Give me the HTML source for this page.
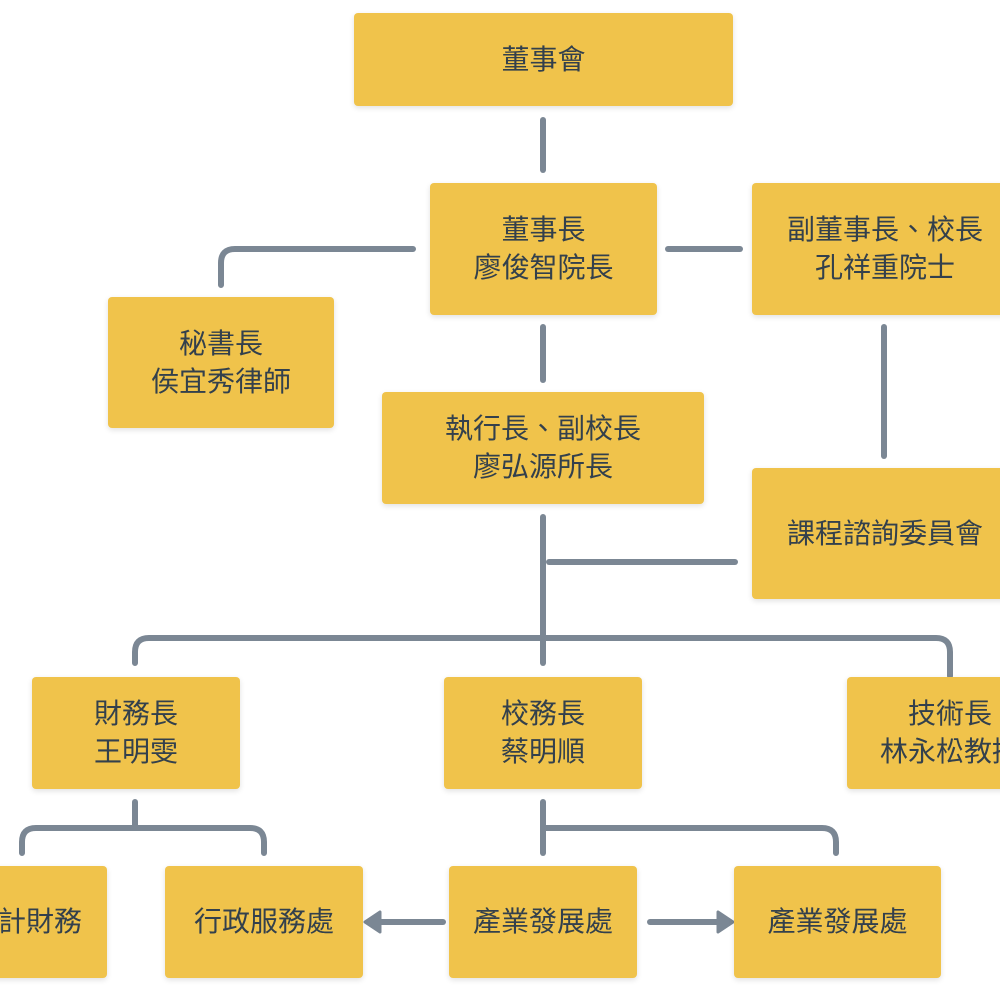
<!DOCTYPE html>
<html><head><meta charset="utf-8"><style>
html,body{margin:0;padding:0;background:#fff;}
body{width:1000px;height:1000px;position:relative;overflow:hidden;}
.b{position:absolute;background:#f0c34b;border-radius:4px;box-shadow:0 2px 6px rgba(0,0,0,0.12);display:flex;align-items:center;justify-content:center;text-align:center;color:#33404c;font-family:"Liberation Sans","Noto Sans CJK TC",sans-serif;font-size:28px;line-height:38px;white-space:nowrap;}
svg{position:absolute;left:0;top:0;}
</style></head><body>
<svg width="1000" height="1000" fill="none" stroke="#7b8794" stroke-width="6" stroke-linecap="round">
<path d="M543 120V170"/>
<path d="M413 249H235Q221 249 221 263V285"/>
<path d="M668 249H740"/>
<path d="M543 327V380"/>
<path d="M884 327V456"/>
<path d="M543 517V663"/>
<path d="M549 562H735"/>
<path d="M135 663V652Q135 638 149 638H936Q950 638 950 652V676"/>
<path d="M135 802V828"/>
<path d="M22 853V842Q22 828 36 828H250Q264 828 264 842V853"/>
<path d="M543 802V853"/>
<path d="M543 828H822Q836 828 836 842V853"/>
<path d="M443 922H378"/>
<path d="M650 922H720"/>
<path d="M365 922L380 912V932Z" fill="#7b8794" stroke-width="3" stroke-linejoin="round"/>
<path d="M733 922L718 912V932Z" fill="#7b8794" stroke-width="3" stroke-linejoin="round"/>
</svg>
<div class="b" style="left:354px;top:13px;width:379px;height:93px">董事會</div>
<div class="b" style="left:430px;top:183px;width:227px;height:132px">董事長<br>廖俊智院長</div>
<div class="b" style="left:752px;top:183px;width:266px;height:132px">副董事長、校長<br>孔祥重院士</div>
<div class="b" style="left:108px;top:297px;width:226px;height:131px">秘書長<br>侯宜秀律師</div>
<div class="b" style="left:382px;top:392px;width:322px;height:112px">執行長、副校長<br>廖弘源所長</div>
<div class="b" style="left:752px;top:468px;width:266px;height:131px">課程諮詢委員會</div>
<div class="b" style="left:32px;top:677px;width:208px;height:112px">財務長<br>王明雯</div>
<div class="b" style="left:444px;top:677px;width:198px;height:112px">校務長<br>蔡明順</div>
<div class="b" style="left:847px;top:677px;width:206px;height:112px">技術長<br>林永松教授</div>
<div class="b" style="left:-55px;top:866px;width:162px;height:112px">會計財務</div>
<div class="b" style="left:165px;top:866px;width:198px;height:112px">行政服務處</div>
<div class="b" style="left:449px;top:866px;width:188px;height:112px">產業發展處</div>
<div class="b" style="left:734px;top:866px;width:207px;height:112px">產業發展處</div>
</body></html>
